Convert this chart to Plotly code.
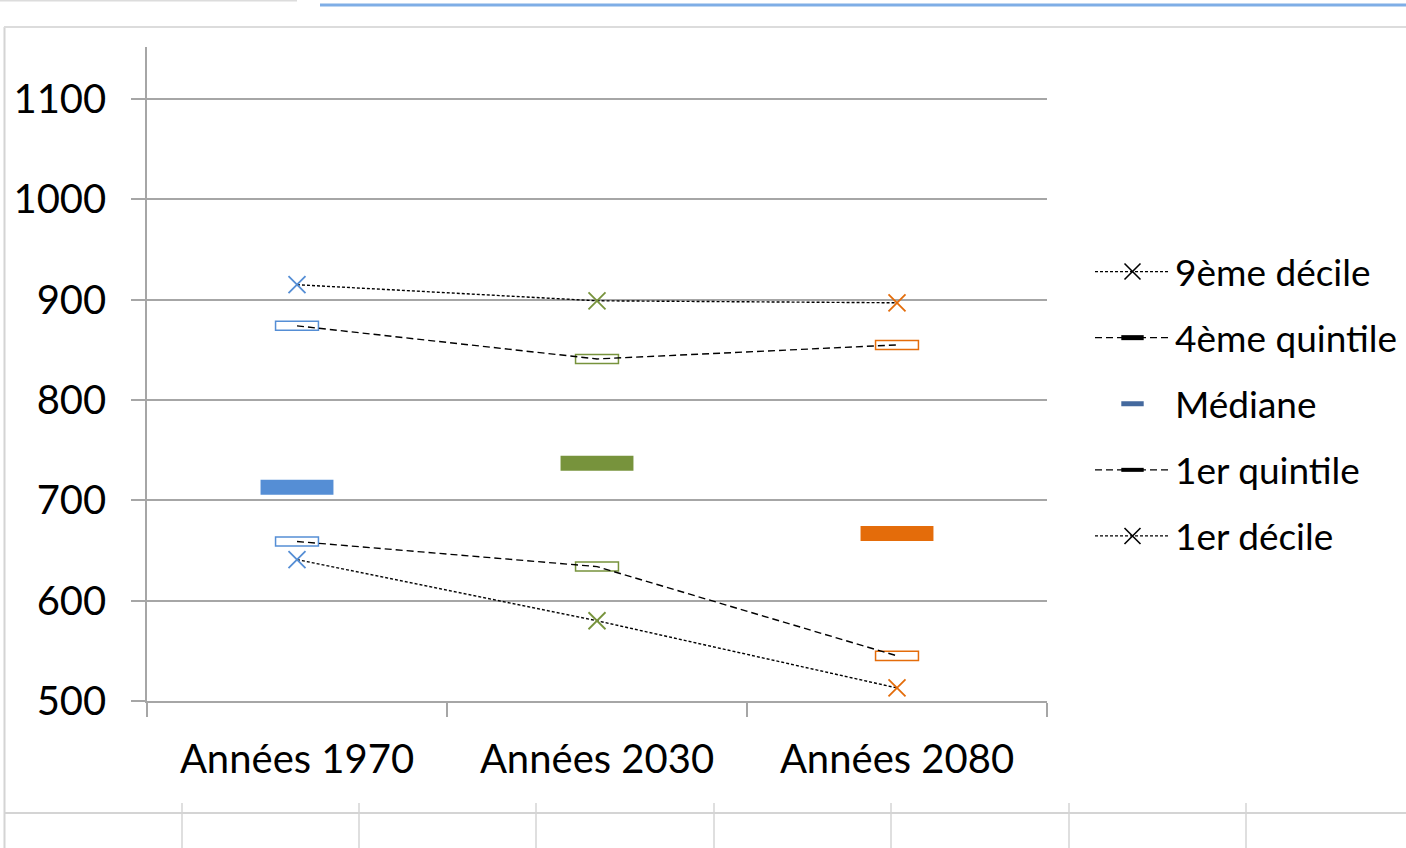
import plotly.graph_objects as go

# Données
periodes = ["Années 1970", "Années 2030", "Années 2080"]
decile_9 = [915, 899, 897]
quintile_4 = [874, 841, 855]
mediane = [713, 737, 667]
quintile_1 = [659, 634, 545]
decile_1 = [641, 580, 513]

couleurs = ["#558ED5", "#77933C", "#E46C0A"]
legende_mediane = "#44699E"

W, H = 1406, 848
L, R, T, B = 147, 359, 47, 147
PW, PH = W - L - R, H - T - B

FONT = "Lato"
GRIS = "#A6A6A6"

fig = go.Figure()

# Rectangles médiane (pleins)
h_med = 15
fig.add_trace(go.Bar(
    x=periodes, y=[h_med] * 3, base=[v - h_med / 2 for v in mediane],
    width=0.243, marker=dict(color=couleurs, line=dict(width=0)),
    showlegend=False, hoverinfo="skip",
))

# Rectangles quintiles (vides)
h_q = 9
for serie in (quintile_4, quintile_1):
    fig.add_trace(go.Bar(
        x=periodes, y=[h_q] * 3, base=[v - h_q / 2 for v in serie],
        width=0.143, marker=dict(color="white", line=dict(width=1.5, color=couleurs)),
        showlegend=False, hoverinfo="skip",
    ))

# Lignes pointillées
for serie in (quintile_4, quintile_1):
    fig.add_trace(go.Scatter(
        x=periodes, y=serie, mode="lines",
        line=dict(color="black", width=1.4, dash="7px,4px"),
        showlegend=False, hoverinfo="skip",
    ))
for serie in (decile_9, decile_1):
    fig.add_trace(go.Scatter(
        x=periodes, y=serie, mode="lines+markers",
        line=dict(color="black", width=1.4, dash="3px,2px"),
        marker=dict(symbol="x-thin", size=17, color=couleurs,
                    line=dict(width=1.8, color=couleurs)),
        showlegend=False, hoverinfo="skip",
    ))

# Entrées de légende
legende = [
    ("9ème décile", "lines+markers", "3px,2px", dict(symbol="x-thin", size=16, line=dict(width=1.6, color="black"))),
    ("4ème quintile", "lines+markers", "7px,4px", dict(symbol="line-ew", size=16, line=dict(width=5, color="black"))),
    ("Médiane", "markers", None, dict(symbol="line-ew", size=16, line=dict(width=6, color=legende_mediane))),
    ("1er quintile", "lines+markers", "7px,4px", dict(symbol="line-ew", size=16, line=dict(width=4, color="black"))),
    ("1er décile", "lines+markers", "3px,2px", dict(symbol="x-thin", size=16, line=dict(width=1.6, color="black"))),
]
for i, (nom, mode, dash, mk) in enumerate(legende):
    fig.add_trace(go.Scatter(
        x=[None], y=[None], mode=mode, name=nom, legendgroup=str(i),
        line=dict(color="black", width=1.3, dash=dash or "solid"),
        marker=mk,
    ))


def px_x(p):
    return (p - L) / PW


def px_y(p):
    return 1 - (p - T) / PH


# Cadre façon tableur
deco = [
    dict(x0=px_x(4.5), x1=px_x(4.5), y0=px_y(27), y1=px_y(848), color="#D4D4D4", w=2),
    dict(x0=px_x(4), x1=px_x(1406), y0=px_y(27), y1=px_y(27), color="#DCDCDC", w=2),
    dict(x0=px_x(320), x1=px_x(1406), y0=px_y(5), y1=px_y(5), color="#7FAEE6", w=3),
    dict(x0=px_x(0), x1=px_x(297), y0=px_y(0.5), y1=px_y(0.5), color="#DCDCDC", w=2),
    dict(x0=px_x(4), x1=px_x(1406), y0=px_y(813), y1=px_y(813), color="#D4D4D4", w=2),
]
for vx in (182, 359, 536, 714, 891, 1069, 1246):
    deco.append(dict(x0=px_x(vx), x1=px_x(vx), y0=px_y(803), y1=px_y(848), color="#D4D4D4", w=1.5))
for d in deco:
    fig.add_shape(type="line", xref="paper", yref="paper",
                  x0=d["x0"], x1=d["x1"], y0=d["y0"], y1=d["y1"],
                  line=dict(color=d["color"], width=d["w"]))

fig.update_layout(
    width=W, height=H,
    margin=dict(l=L, r=R, t=T, b=B, autoexpand=False),
    paper_bgcolor="white", plot_bgcolor="white",
    barmode="overlay",
    font=dict(family=FONT, size=40, color="black"),
    showlegend=True,
    legend=dict(
        x=px_x(1090), xanchor="left", y=px_y(404), yanchor="middle",
        font=dict(size=37), tracegroupgap=15, traceorder="grouped",
        itemwidth=75, bgcolor="rgba(0,0,0,0)",
    ),
    xaxis=dict(
        type="category", range=[-0.5, 2.5], showline=True, linecolor=GRIS, linewidth=1.5,
        ticks="outside", tickson="boundaries", ticklen=14, tickcolor=GRIS, tickwidth=1.5,
        showgrid=False, tickfont=dict(size=40), ticklabelstandoff=22,
    ),
    yaxis=dict(
        range=[500, 1152], tick0=500, dtick=100, showline=True, linecolor=GRIS, linewidth=1.5,
        ticks="outside", ticklen=14, tickcolor=GRIS, tickwidth=1.5,
        showgrid=True, gridcolor=GRIS, gridwidth=1.5, zeroline=False,
        tickfont=dict(size=40), ticklabelstandoff=17,
    ),
)

fig.write_html("out.html", config={"displayModeBar": False},
               post_script="document.body.style.margin='0';")
